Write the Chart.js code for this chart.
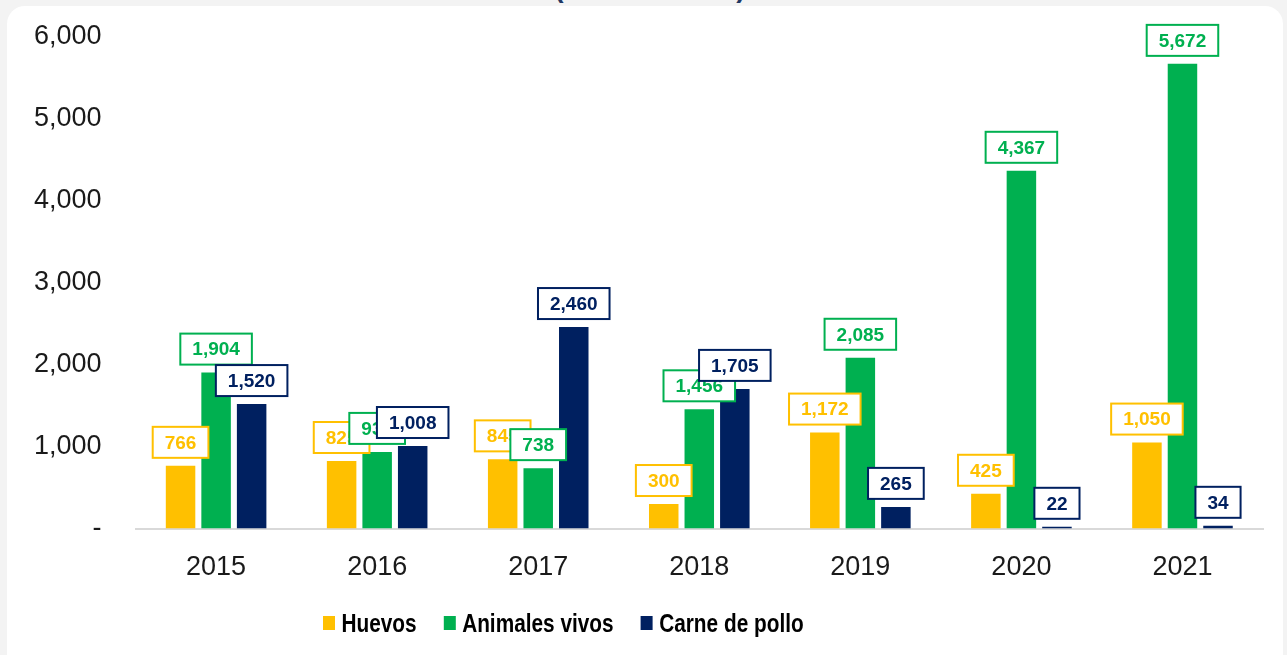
<!DOCTYPE html>
<html>
<head>
<meta charset="utf-8">
<script src="https://cdn.jsdelivr.net/npm/chart.js@4"></script>
<style>
  html, body { margin: 0; padding: 0; background: #f3f3f3; overflow: hidden; }
  .card { position: absolute; left: 7px; top: 6px; width: 1276px; height: 700px; background: #fff; border-radius: 18px; }
  .title { position: absolute; left: 0; width: 1300px; top: -27px; text-align: center; font: bold 28px 'Liberation Sans', Arial, sans-serif; color: #1f3864; line-height: 30px; }
  .wrap { position: absolute; left: 0; top: 0; width: 1287px; height: 655px; }
  .legend { position: absolute; left: 323px; top: 607px; display: flex; align-items: center; transform: scaleX(0.8); transform-origin: left center;
            font: bold 26px 'Liberation Sans', Arial, sans-serif; color: #000; white-space: nowrap; line-height: 32px; }
  .legend .item { display: flex; align-items: center; margin-right: 34px; }
  .legend .sw { width: 15px; height: 14px; margin-right: 8px; }
</style>
</head>
<body>
<div class="card"></div>
<div class="title">(Miles de US$)</div>
<div class="wrap"><canvas id="chart"></canvas></div>
<div class="legend" id="legend"></div>
<script>
// ── Data ──
const years = ['2015', '2016', '2017', '2018', '2019', '2020', '2021'];
const huevos = [766, 825, 845, 300, 1172, 425, 1050];
const animalesVivos = [1904, 936, 738, 1456, 2085, 4367, 5672];
const carnePollo = [1520, 1008, 2460, 1705, 265, 22, 34];
const yTicks = [0, 1000, 2000, 3000, 4000, 5000, 6000];

const YELLOW = '#FFC000';
const GREEN  = '#00B050';
const NAVY   = '#002060';

const fmt = v => v.toLocaleString('en-US');

// ── Boxed value labels above each bar ──
const boxLabels = {
  id: 'boxLabels',
  afterDatasetsDraw(chart) {
    const ctx = chart.ctx;
    ctx.save();
    ctx.font = 'bold 19px "Liberation Sans", Arial, sans-serif';
    ctx.textAlign = 'center';
    ctx.textBaseline = 'middle';
    chart.data.datasets.forEach((ds, i) => {
      chart.getDatasetMeta(i).data.forEach((bar, j) => {
        const txt = fmt(ds.data[j]);
        const w = ctx.measureText(txt).width + 24;
        const h = 31;
        const x = bar.x - w / 2;
        const y = bar.y - 8 - h;
        ctx.fillStyle = '#fff';
        ctx.fillRect(x, y, w, h);
        ctx.strokeStyle = ds.backgroundColor;
        ctx.lineWidth = 2;
        ctx.strokeRect(x, y, w, h);
        ctx.fillStyle = ds.backgroundColor;
        ctx.fillText(txt, bar.x, y + h / 2 + 1);
      });
    });
    ctx.restore();
  }
};

const chart = new Chart(document.getElementById('chart'), {
  type: 'bar',
  data: {
    labels: years,
    datasets: [
      { label: 'Huevos', data: huevos, backgroundColor: YELLOW },
      { label: 'Animales vivos', data: animalesVivos, backgroundColor: GREEN },
      { label: 'Carne de pollo', data: carnePollo, backgroundColor: NAVY }
    ]
  },
  options: {
    responsive: true,
    maintainAspectRatio: false,
    animation: false,
    layout: { padding: { top: 37, left: 0, right: 24, bottom: 48 } },
    datasets: { bar: { categoryPercentage: 0.662, barPercentage: 0.83 } },
    scales: {
      x: {
        grid: { display: false, drawTicks: false },
        border: { color: '#d9d9d9', width: 2 },
        ticks: { padding: 23, color: '#1a1a1a', font: { family: 'Liberation Sans', size: 27 } }
      },
      y: {
        min: 0, max: 6000,
        afterBuildTicks: axis => { axis.ticks = yTicks.map(v => ({ value: v })); },
        afterFit: axis => { axis.paddingTop = 0; axis.paddingBottom = 0; },
        grid: { display: false, drawTicks: false },
        border: { display: false },
        ticks: {
          padding: 34,
          color: '#1a1a1a',
          font: { family: 'Liberation Sans', size: 27 },
          callback: v => v === 0 ? '-' : fmt(v)
        }
      }
    },
    plugins: {
      legend: { display: false },
      tooltip: { enabled: false }
    }
  },
  plugins: [boxLabels]
});

// ── Legend (HTML) ──
const legendEl = document.getElementById('legend');
chart.data.datasets.forEach(ds => {
  const item = document.createElement('div');
  item.className = 'item';
  const sw = document.createElement('span');
  sw.className = 'sw';
  sw.style.background = ds.backgroundColor;
  const txt = document.createElement('span');
  txt.textContent = ds.label;
  item.appendChild(sw);
  item.appendChild(txt);
  legendEl.appendChild(item);
});
</script>
</body>
</html>
